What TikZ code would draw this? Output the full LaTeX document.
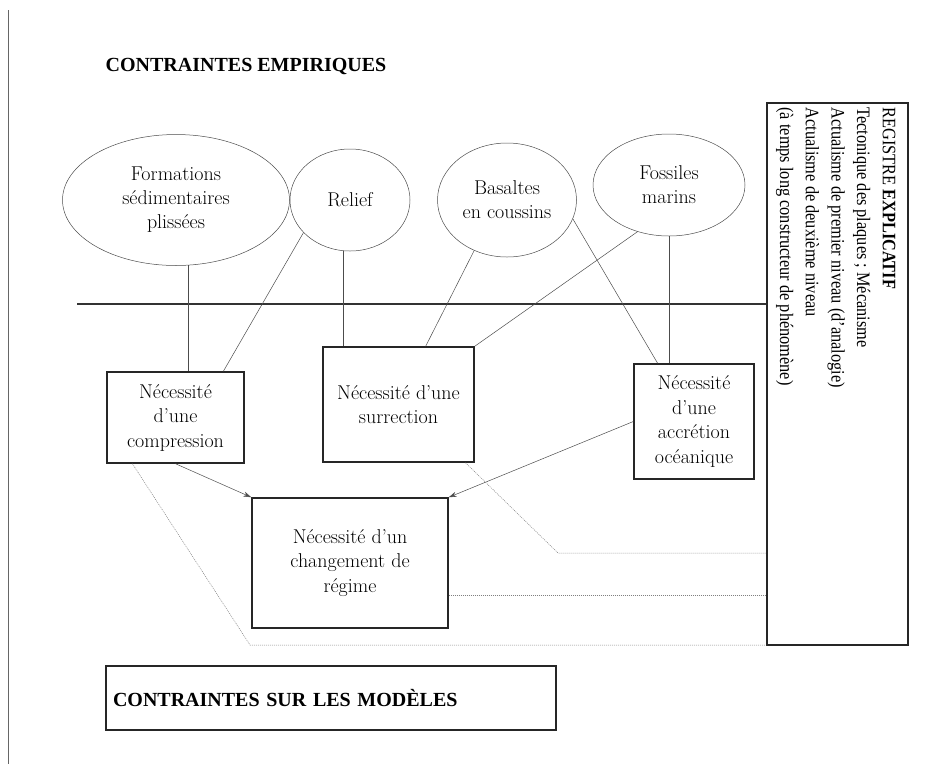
\documentclass[tikz,border=0pt]{standalone}
\usepackage{fontspec}
\newfontfamily\headfont{Liberation Serif}
\newfontfamily\regfont[FakeStretch=0.86]{Liberation Serif}
\usetikzlibrary{shapes.geometric,arrows.meta}

\begin{document}
\begin{tikzpicture}[x=1pt,y=-1pt]

    \tikzset{
      EllipseStyle/.style = { ellipse, draw = black!70, line width = 0.5pt,
                  inner sep = 0pt, align = center,
                  font = \fontsize{20}{24}\selectfont },
      BoxStyle/.style = { rectangle, draw = black!85, line width = 1.4pt,
                  inner sep = 0pt, align = center,
                  font = \fontsize{20}{24.5}\selectfont },
      EdgeStyle/.style = { draw = black!70, line width = 0.5pt },
      ArrowStyle/.style = { EdgeStyle, -{Stealth[length=8pt,width=5pt]} },
      DotStyle/.style = { draw = black!50, line width = 0.5pt,
                  dash pattern = on 1pt off 1pt },
      HeadStyle/.style = { font = \headfont\bfseries\fontsize{20}{24}\selectfont } }

    \useasboundingbox (0,0) rectangle (936,764);
    \draw[black!60, line width = 0.8pt] (8,10) -- (8,764);

    \node[HeadStyle] (empir) at (246,66) {CONTRAINTES EMPIRIQUES};

    % constats
    \node[EllipseStyle, minimum width = 227pt, minimum height = 131pt] (form) at (176,200)
      {Formations\\sédimentaires\\plissées};
    \node[EllipseStyle, minimum width = 120pt, minimum height = 102pt] (relief) at (350,200) {Relief};
    \node[EllipseStyle, minimum width = 139pt, minimum height = 114pt] (basalt) at (507,200)
      {Basaltes\\en coussins};
    \node[EllipseStyle, minimum width = 152pt, minimum height = 102pt] (fossil) at (669,185)
      {Fossiles\\marins};

    % necessites
    \node[BoxStyle, minimum width = 137pt, minimum height = 91pt] (compr) at (175.5,417.5)
      {Nécessité\\d’une\\compression};
    \node[BoxStyle, minimum width = 151pt, minimum height = 115pt] (surr) at (398.5,404.5)
      {Nécessité d’une\\surrection};
    \node[BoxStyle, minimum width = 120pt, minimum height = 115pt] (accr) at (694,421.5)
      {Nécessité\\d’une\\accrétion\\océanique};
    \node[BoxStyle, minimum width = 196pt, minimum height = 130pt] (chg) at (350,563)
      {Nécessité d’un\\changement de\\régime};

    % registre explicatif
    \node[BoxStyle, minimum width = 141pt, minimum height = 542pt] (reg) at (837.5,374) {};
    \node[rotate = -90, anchor = north west, inner sep = 0pt, align = left,
          font = \regfont\fontsize{19}{25.7}\selectfont] (regtext)
      at ([xshift = -13pt, yshift = -5pt]reg.north east)
      {REGISTRE \textbf{EXPLICATIF}\\Tectonique des plaques~; Mécanisme\\
       Actualisme de premier niveau (d’analogie)\\Actualisme de deuxième niveau\\
       (à temps long constructeur de phénomène)};

    \node[rectangle, draw = black!85, line width = 1.4pt, text width = 436pt,
          inner xsep = 7pt, inner ysep = 0pt, minimum height = 64pt, align = left,
          HeadStyle] (models) at (331,698) {CONTRAINTES SUR LES MODÈLES};

    \coordinate (sepl) at (77,304);
    \draw[black!80, line width = 2pt] (sepl) -- (sepl -| reg.west);

    \draw[EdgeStyle] (form.-79.6) -- (form.-79.6 |- compr.north);
    \draw[EdgeStyle] (relief.215) -- (compr.44.4);
    \draw[EdgeStyle] (relief.-97.9) -- (relief.-97.9 |- surr.north);
    \draw[EdgeStyle] (basalt.-123.7) -- (surr.65.3);
    \draw[EdgeStyle] (fossil.-124.2) -- (surr.north east);
    \draw[EdgeStyle] (basalt.-16.9) -- (accr.122);
    \draw[EdgeStyle] (fossil.south) -- (fossil.south |- accr.north);

    \draw[ArrowStyle] (compr.south) -- (chg.north west);
    \draw[ArrowStyle] (accr.west) -- (chg.north east);

    \coordinate (kneeA) at (558,553);
    \coordinate (kneeB) at (250,645);
    \draw[DotStyle] (surr.-41.7) -- (kneeA) -- (kneeA -| reg.west);
    \draw[DotStyle] (chg.-18.6) -- (chg.-18.6 -| reg.west);
    \draw[DotStyle] (compr.-133.7) -- (kneeB) -- (kneeB -| reg.west);
\end{tikzpicture}
\end{document}
